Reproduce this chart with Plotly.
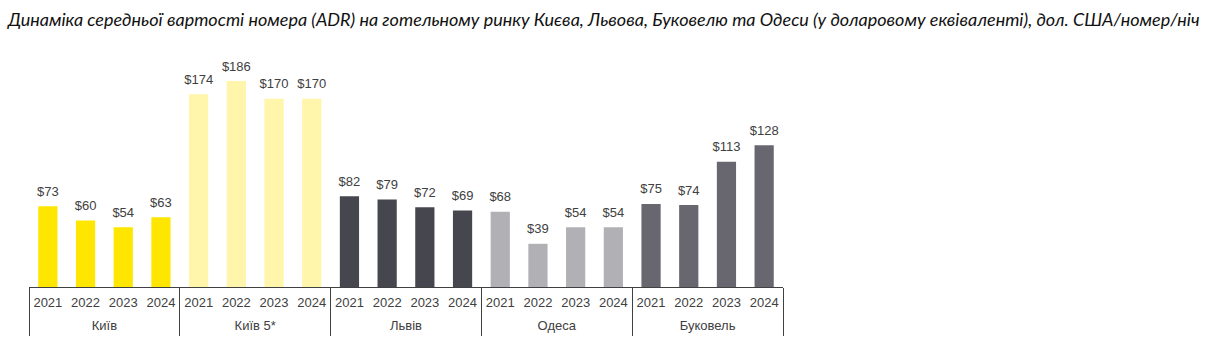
import plotly.graph_objects as go

# ADR by market and year, USD per room-night
markets = ["Київ", "Київ 5*", "Львів", "Одеса", "Буковель"]
years = ["2021", "2022", "2023", "2024"]
adr_kyiv = [73, 60, 54, 63]
adr_kyiv5 = [174, 186, 170, 170]
adr_lviv = [82, 79, 72, 69]
adr_odesa = [68, 39, 54, 54]
adr_bukovel = [75, 74, 113, 128]
market_colors = ["#FFE600", "#FFF5AB", "#46464F", "#B1B0B5", "#68676F"]

series = [adr_kyiv, adr_kyiv5, adr_lviv, adr_odesa, adr_bukovel]
n_years = len(years)
n_slots = len(markets) * n_years

# one slot per (market, year); markets laid out side by side
pos, year_lbl, values, colors = [], [], [], []
for gi, (vals, c) in enumerate(zip(series, market_colors)):
    for yi, (y, v) in enumerate(zip(years, vals)):
        pos.append(gi * n_years + yi)
        year_lbl.append(y)
        values.append(v)
        colors.append(c)

group_centers = [gi * n_years + (n_years - 1) / 2 for gi in range(len(markets))]
group_edges = [gi * n_years - 0.5 for gi in range(len(markets) + 1)]
x_range = [-0.5, n_slots - 0.5]

label_font = dict(family="Liberation Sans, Arial, sans-serif", size=13, color="#404040")

fig = go.Figure()
fig.add_trace(
    go.Bar(
        x=pos,
        y=values,
        marker=dict(color=colors, line=dict(width=0)),
        hoverinfo="skip",
    )
)
# value labels sitting a little above each bar
fig.add_trace(
    go.Scatter(
        x=pos,
        y=values,
        mode="markers+text",
        marker=dict(size=10, opacity=0),
        text=[f"${v}" for v in values],
        textposition="top center",
        textfont=label_font,
        cliponaxis=False,
        hoverinfo="skip",
    )
)
# transparent anchors so the market-label and divider axes get drawn
for ax_name, xs in (("x2", group_centers), ("x3", group_edges)):
    fig.add_trace(
        go.Scatter(
            x=xs,
            y=[0] * len(xs),
            xaxis=ax_name,
            yaxis="y",
            mode="markers",
            marker=dict(opacity=0, size=1),
            hoverinfo="skip",
            showlegend=False,
        )
    )

fig.update_layout(
    width=1208,
    height=350,
    margin=dict(l=29, r=425, t=60, b=63),
    paper_bgcolor="white",
    plot_bgcolor="white",
    bargap=0.49,
    showlegend=False,
    title=dict(
        text="Динаміка середньої вартості номера (ADR) на готельному ринку Києва, Львова, Буковелю та Одеси (у доларовому еквіваленті), дол. США/номер/ніч",
        x=8 / 1208,
        xanchor="left",
        y=1 - 20 / 350,
        yanchor="middle",
        font=dict(family="Lato, sans-serif", size=18, color="#111111", style="italic"),
    ),
    # year row
    xaxis=dict(
        range=x_range,
        tickmode="array",
        tickvals=pos,
        ticktext=year_lbl,
        ticks="",
        ticklabelstandoff=3,
        showline=True,
        linecolor="#404040",
        linewidth=1,
        showgrid=False,
        zeroline=False,
        tickfont=label_font,
    ),
    # market row
    xaxis2=dict(
        overlaying="x",
        anchor="y",
        side="bottom",
        range=x_range,
        tickmode="array",
        tickvals=group_centers,
        ticktext=markets,
        ticks="",
        ticklabelstandoff=29,
        showline=False,
        showgrid=False,
        zeroline=False,
        tickfont=label_font,
    ),
    # group dividers
    xaxis3=dict(
        overlaying="x",
        anchor="y",
        side="bottom",
        range=x_range,
        tickmode="array",
        tickvals=group_edges,
        ticks="outside",
        ticklen=48,
        tickwidth=1,
        tickcolor="#404040",
        showticklabels=False,
        showline=False,
        showgrid=False,
        zeroline=False,
    ),
    yaxis=dict(
        range=[0, 205],
        visible=False,
        showgrid=False,
        zeroline=False,
    ),
)

fig.write_html("out.html")
